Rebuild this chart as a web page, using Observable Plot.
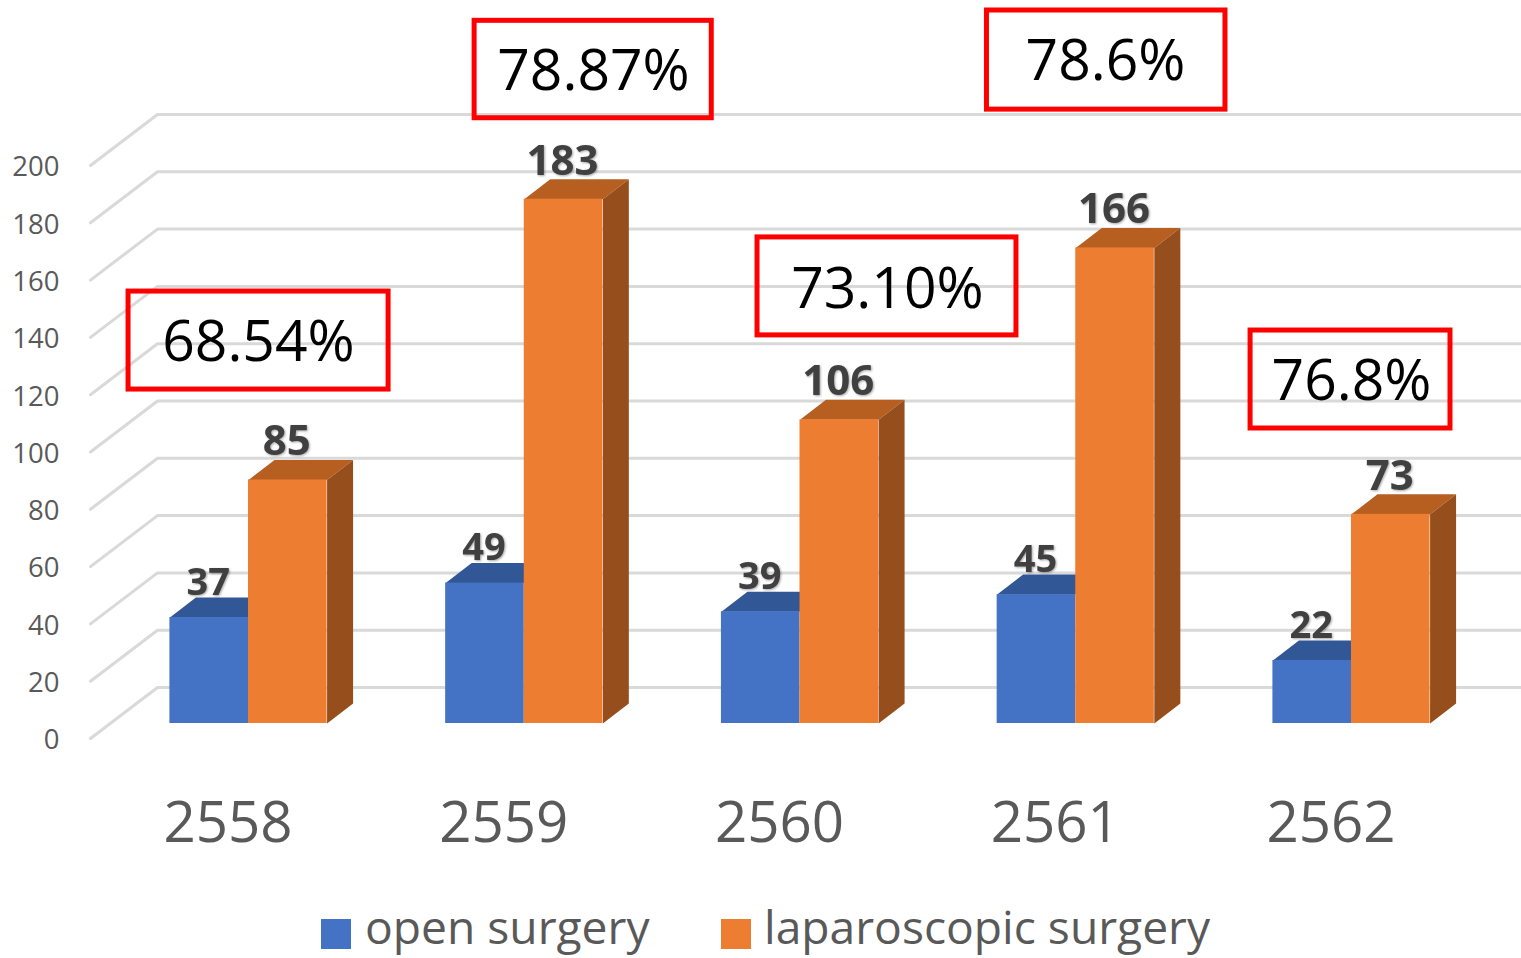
<!DOCTYPE html>
<html>
<head>
<meta charset="utf-8">
<script src="https://cdn.jsdelivr.net/npm/d3@7"></script>
<script src="https://cdn.jsdelivr.net/npm/@observablehq/plot@0.6"></script>
<style>
html,body{margin:0;padding:0;background:#fff;overflow:hidden;}
#chart svg{display:block;}
.lab{filter:drop-shadow(1px 1px 1px rgba(0,0,0,.35));}
#legend{position:relative;height:58px;font-family:"Open Sans",sans-serif;color:#595959;font-size:46.2px;}
#legend .sw{position:absolute;top:19px;width:30px;height:30px;}
#legend .tx{position:absolute;top:-2px;line-height:58px;white-space:nowrap;}
</style>
</head>
<body>
<div id="chart"></div>
<div id="legend"></div>
<script>
const years = [2558, 2559, 2560, 2561, 2562];
const openSurgery = [37, 49, 39, 45, 22];
const laparoscopicSurgery = [85, 183, 106, 166, 73];
const yTicks = [0, 20, 40, 60, 80, 100, 120, 140, 160, 180, 200];
const seriesNames = ["open surgery", "laparoscopic surgery"];

const boxLabels = ["68.54%", "78.87%", "73.10%", "78.6%", "76.8%"];
const boxX1 = [2557.565, 2558.82, 2559.846, 2560.678, 2561.634];
const boxX2 = [2558.508, 2559.68, 2560.785, 2561.543, 2562.359];
const boxY1 = [121.8, 216.5, 140.7, 219.5, 108.2];
const boxY2 = [156, 250.5, 174.9, 254.1, 142.4];
const boxTextX = [2558.036, 2559.251, 2560.317, 2561.108, 2562.0];
const boxTextY = [138.6, 233.2, 157.1, 236.6, 125];

// 3D geometry, in data units
const barW = 0.2850, depthX = 0.0943, depthY = 6.98, floorY = 5.24;
const wallDX = 0.243, wallDY = 17.8, gridLeft = 2557.427, gridRight = 2562.62;

const C = {blue:"#4472c4", blueTop:"#315796", orange:"#ed7d31", orangeTop:"#b65f21", orangeSide:"#964f1c"};

const openRows = years.map((year,i)=>({year, value:openSurgery[i], x1:year-barW, x2:year}));
const lapRows = years.map((year,i)=>({year, value:laparoscopicSurgery[i], x1:year, x2:year+barW}));

const topFace = rows => rows.flatMap((r,id)=>[
  {id,x:r.x1,y:r.value},{id,x:r.x1+depthX,y:r.value+depthY},{id,x:r.x2+depthX,y:r.value+depthY},{id,x:r.x2,y:r.value}]);
const sideFace = rows => rows.flatMap((r,id)=>[
  {id,x:r.x2,y:0},{id,x:r.x2+depthX,y:depthY},{id,x:r.x2+depthX,y:r.value+depthY},{id,x:r.x2,y:r.value}]);
// shift every 3D face from the axis plane to the bars' front plane
const shifted = a => a.map(d=>({...d,y:d.y+floorY}));

const grid = yTicks.flatMap((v,id)=>[
  {id,x:gridLeft,y:v},{id,x:gridLeft+wallDX,y:v+wallDY},{id,x:gridRight,y:v+wallDY}]);
const boxes = boxLabels.map((label,i)=>({label,x1:boxX1[i],x2:boxX2[i],y1:boxY1[i],y2:boxY2[i],tx:boxTextX[i],ty:boxTextY[i]}));

const fontFamily = '"Open Sans",sans-serif';
const front = (rows,fill)=>Plot.rect(rows,{x1:"x1",x2:"x2",y1:()=>floorY,y2:d=>d.value+floorY,fill});
const labels = (rows,fontSize,dx,dy)=>Plot.text(rows,{x:d=>(d.x1+d.x2)/2,y:d=>d.value+floorY,text:d=>String(d.value),dx,dy,
  fontSize,fontWeight:700,fill:"#404040",className:"lab"});

const plot = Plot.plot({
  width:1521,height:900,
  marginLeft:60,marginRight:0,marginTop:0,marginBottom:99,
  style:{fontFamily,background:"#fff",overflow:"visible"},
  x:{type:"linear",domain:[2558,2562],range:[248,1351]},
  y:{type:"linear",domain:[0,200],range:[738,165]},
  marks:[
    Plot.line(grid,{x:"x",y:"y",z:"id",stroke:"#d9d9d9",strokeWidth:3,clip:false}),
    Plot.line(shifted(topFace(openRows)),{x:"x",y:"y",z:"id",fill:C.blueTop,stroke:"none"}),
    front(openRows,C.blue),
    Plot.line(shifted(topFace(lapRows)),{x:"x",y:"y",z:"id",fill:C.orangeTop,stroke:"none"}),
    Plot.line(shifted(sideFace(lapRows)),{x:"x",y:"y",z:"id",fill:C.orangeSide,stroke:"none"}),
    front(lapRows,C.orange),
    labels(openRows,38,-1,-35),
    labels(lapRows,42,-1,-38),
    Plot.axisY(yTicks,{anchor:"left",tickSize:0,tickPadding:0,fontSize:27.5,color:"#595959",label:null,dx:-1,dy:2,tickFormat:d=>String(d)}),
    Plot.axisX(years,{anchor:"bottom",tickSize:0,tickPadding:0,fontSize:56.5,color:"#595959",label:null,dx:-20.5,tickFormat:d=>String(d)}),
    Plot.rect(boxes,{x1:"x1",x2:"x2",y1:"y1",y2:"y2",fill:"none",stroke:"#ff0000",strokeWidth:5}),
    Plot.text(boxes,{x:"tx",y:"ty",text:"label",fontSize:57,dy:1,fill:"#000"})
  ]
});
document.getElementById("chart").appendChild(plot);

const legend = document.getElementById("legend");
const swatchLeft = [321,721], textLeft = [365,764], swatchColors = [C.blue,C.orange];
seriesNames.forEach((name,i)=>{
  const s=document.createElement("div");s.className="sw";s.style.left=swatchLeft[i]+"px";s.style.background=swatchColors[i];legend.appendChild(s);
  const t=document.createElement("div");t.className="tx";t.style.left=textLeft[i]+"px";t.textContent=name;legend.appendChild(t);
});
</script>
</body>
</html>
